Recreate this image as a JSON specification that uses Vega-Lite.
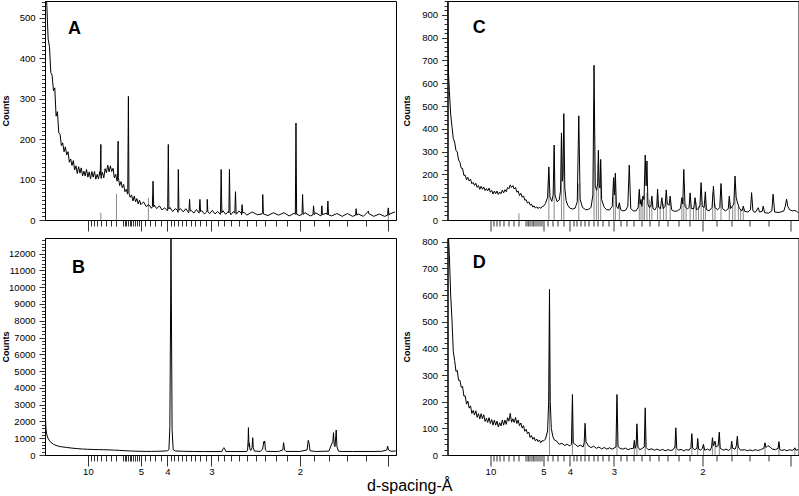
{
"$schema": "https://vega.github.io/schema/vega-lite/v6.json",
"padding": 0,
"background": "white",
"bounds": "flush",
"config": {
  "view": {"stroke": "#000", "strokeWidth": 1},
  "font": "Liberation Sans",
  "axis": {"domainColor": "#000", "tickColor": "#333", "labelColor": "#000", "labelFont": "Liberation Sans", "labelFontSize": 9.5, "titleFont": "Liberation Sans", "titleColor": "#000", "grid": false, "labelOverlap": false, "labelFlush": false}
},
"title": {"text": "d-spacing-Å", "orient": "bottom", "anchor": "middle", "fontSize": 16, "fontWeight": "normal", "font": "Liberation Sans", "color": "#000", "offset": 2, "dx": 10},
"datasets": {
"A": [{"d":50,"c":600},{"d":44.44,"c":530},{"d":40,"c":448},{"d":36.36,"c":429},{"d":33.33,"c":365},{"d":30.77,"c":358},{"d":28.57,"c":320},{"d":26.67,"c":327},{"d":25,"c":257},{"d":23.53,"c":268},{"d":22.22,"c":216},{"d":21.05,"c":212},{"d":20,"c":184},{"d":19.05,"c":191},{"d":18.18,"c":169},{"d":17.39,"c":181},{"d":16.67,"c":161},{"d":16,"c":169},{"d":15.38,"c":143},{"d":14.81,"c":151},{"d":14.29,"c":135},{"d":13.79,"c":147},{"d":13.33,"c":124},{"d":12.9,"c":134},{"d":12.5,"c":115},{"d":12.12,"c":132},{"d":11.76,"c":116},{"d":11.43,"c":129},{"d":11.11,"c":109},{"d":10.81,"c":121},{"d":10.53,"c":109},{"d":10.26,"c":125},{"d":10,"c":106},{"d":9.756,"c":119},{"d":9.524,"c":102},{"d":9.302,"c":120},{"d":9.091,"c":106},{"d":8.889,"c":120},{"d":8.696,"c":101},{"d":8.511,"c":113},{"d":8.333,"c":102},{"d":8.163,"c":120},{"d":8,"c":103},{"d":7.843,"c":118},{"d":7.692,"c":104},{"d":7.547,"c":127},{"d":7.407,"c":117},{"d":7.273,"c":136},{"d":7.143,"c":119},{"d":7.018,"c":134},{"d":6.897,"c":120},{"d":6.78,"c":128},{"d":6.667,"c":104},{"d":6.557,"c":113},{"d":6.452,"c":96},{"d":6.349,"c":105},{"d":6.25,"c":85},{"d":6.154,"c":95},{"d":6.061,"c":80},{"d":5.97,"c":88},{"d":5.882,"c":70},{"d":5.797,"c":76},{"d":5.714,"c":64},{"d":5.634,"c":74},{"d":5.556,"c":56},{"d":5.479,"c":62},{"d":5.405,"c":47},{"d":5.333,"c":59},{"d":5.263,"c":45},{"d":5.195,"c":53},{"d":5.128,"c":40},{"d":5.063,"c":49},{"d":5,"c":38},{"d":4.878,"c":45},{"d":4.762,"c":33},{"d":4.651,"c":38},{"d":4.545,"c":29},{"d":4.444,"c":37},{"d":4.348,"c":28},{"d":4.255,"c":35},{"d":4.167,"c":25},{"d":4.082,"c":30},{"d":4,"c":23},{"d":3.922,"c":31},{"d":3.846,"c":21},{"d":3.774,"c":28},{"d":3.704,"c":19},{"d":3.636,"c":28},{"d":3.571,"c":20},{"d":3.509,"c":28},{"d":3.448,"c":18},{"d":3.39,"c":24},{"d":3.333,"c":17},{"d":3.279,"c":26},{"d":3.226,"c":17},{"d":3.175,"c":23},{"d":3.125,"c":15},{"d":3.077,"c":24},{"d":3.03,"c":16},{"d":2.985,"c":24},{"d":2.941,"c":15},{"d":2.899,"c":21},{"d":2.857,"c":14},{"d":2.817,"c":23},{"d":2.778,"c":14},{"d":2.74,"c":21},{"d":2.703,"c":13},{"d":2.667,"c":21},{"d":2.632,"c":14},{"d":2.597,"c":22},{"d":2.564,"c":13},{"d":2.532,"c":19},{"d":2.5,"c":12},{"d":2.439,"c":20},{"d":2.381,"c":13},{"d":2.326,"c":19},{"d":2.273,"c":11},{"d":2.222,"c":18},{"d":2.174,"c":12},{"d":2.128,"c":18},{"d":2.083,"c":10},{"d":2.041,"c":17},{"d":2,"c":11},{"d":1.961,"c":18},{"d":1.923,"c":10},{"d":1.887,"c":18},{"d":1.852,"c":10},{"d":1.818,"c":17},{"d":1.786,"c":10},{"d":1.754,"c":16},{"d":1.724,"c":9},{"d":1.695,"c":16},{"d":1.667,"c":9},{"d":1.639,"c":15},{"d":1.613,"c":9},{"d":1.587,"c":16},{"d":1.563,"c":9},{"d":1.538,"c":15},{"d":1.515,"c":9},{"d":1.493,"c":15},{"d":1.471,"c":20},
{"d":8.11,"c":111},{"d":8.032,"c":187},{"d":7.955,"c":111},{"d":6.414,"c":100},{"d":6.365,"c":195},{"d":6.317,"c":99},{"d":5.705,"c":68},{"d":5.666,"c":306},{"d":5.627,"c":66},{"d":4.509,"c":33},{"d":4.484,"c":96},{"d":4.46,"c":33},{"d":3.99,"c":27},{"d":3.971,"c":187},{"d":3.953,"c":27},{"d":3.711,"c":24},{"d":3.694,"c":125},{"d":3.678,"c":24},{"d":3.439,"c":22},{"d":3.425,"c":51},{"d":3.411,"c":22},{"d":3.223,"c":21},{"d":3.21,"c":51},{"d":3.198,"c":21},{"d":3.085,"c":20},{"d":3.074,"c":51},{"d":3.063,"c":20},{"d":2.854,"c":18},{"d":2.844,"c":125},{"d":2.834,"c":18},{"d":2.731,"c":18},{"d":2.723,"c":125},{"d":2.714,"c":18},{"d":2.65,"c":17},{"d":2.641,"c":70},{"d":2.633,"c":17},{"d":2.565,"c":17},{"d":2.557,"c":38},{"d":2.549,"c":17},{"d":2.332,"c":15},{"d":2.325,"c":63},{"d":2.319,"c":15},{"d":2.034,"c":14},{"d":2.029,"c":240},{"d":2.024,"c":14},{"d":1.983,"c":14},{"d":1.979,"c":63},{"d":1.974,"c":14},{"d":1.905,"c":13},{"d":1.901,"c":35},{"d":1.896,"c":13},{"d":1.85,"c":13},{"d":1.846,"c":35},{"d":1.842,"c":13},{"d":1.812,"c":13},{"d":1.808,"c":47},{"d":1.804,"c":13},{"d":1.652,"c":12},{"d":1.649,"c":28},{"d":1.646,"c":12},{"d":1.588,"c":22},{"d":1.502,"c":12},{"d":1.499,"c":30},{"d":1.496,"c":12}],
"As": [{"d":8.032,"c":18},{"d":6.494,"c":65},{"d":4.669,"c":55},{"d":1.499,"c":25}],
"B": [{"d":51.28,"c":2350},{"d":50,"c":2150},{"d":47.62,"c":1500},{"d":44.44,"c":1200},{"d":40,"c":980},{"d":36.36,"c":850},{"d":33.33,"c":760},{"d":28.57,"c":640},{"d":25,"c":570},{"d":22.22,"c":520},{"d":20,"c":490},{"d":16.67,"c":450},{"d":14.29,"c":410},{"d":12.5,"c":380},{"d":11.11,"c":355},{"d":10,"c":340},{"d":9.091,"c":330},{"d":8.333,"c":320},{"d":7.692,"c":315},{"d":7.143,"c":305},{"d":6.667,"c":290},{"d":6.25,"c":275},{"d":5.882,"c":255},{"d":5.556,"c":240},{"d":5.263,"c":228},{"d":5,"c":220},{"d":4.762,"c":215},{"d":4.545,"c":215},{"d":4.348,"c":220},{"d":4.167,"c":230},{"d":4,"c":250},{"d":3.953,"c":320},{"d":3.925,"c":1700},{"d":3.903,"c":9000},{"d":3.893,"c":13500},{"d":3.882,"c":9000},{"d":3.861,"c":1500},{"d":3.831,"c":320},{"d":3.774,"c":240},{"d":3.571,"c":220},{"d":3.333,"c":210},{"d":3.125,"c":205},{"d":2.941,"c":205},{"d":2.833,"c":215},{"d":2.813,"c":380},{"d":2.803,"c":437},{"d":2.793,"c":370},{"d":2.774,"c":215},{"d":2.632,"c":205},{"d":2.5,"c":210},{"d":2.491,"c":300},{"d":2.484,"c":900},{"d":2.481,"c":1630},{"d":2.477,"c":900},{"d":2.473,"c":500},{"d":2.469,"c":700},{"d":2.463,"c":320},{"d":2.451,"c":280},{"d":2.439,"c":450},{"d":2.432,"c":1030},{"d":2.426,"c":450},{"d":2.415,"c":240},{"d":2.353,"c":210},{"d":2.326,"c":350},{"d":2.315,"c":795},{"d":2.311,"c":700},{"d":2.305,"c":835},{"d":2.298,"c":300},{"d":2.283,"c":215},{"d":2.174,"c":210},{"d":2.137,"c":300},{"d":2.13,"c":735},{"d":2.122,"c":300},{"d":2.11,"c":215},{"d":2,"c":210},{"d":1.946,"c":300},{"d":1.938,"c":874},{"d":1.932,"c":700},{"d":1.925,"c":250},{"d":1.887,"c":210},{"d":1.802,"c":230},{"d":1.783,"c":700},{"d":1.778,"c":795},{"d":1.774,"c":1330},{"d":1.77,"c":600},{"d":1.765,"c":500},{"d":1.758,"c":1490},{"d":1.754,"c":500},{"d":1.745,"c":230},{"d":1.724,"c":210},{"d":1.667,"c":210},{"d":1.5625,"c":210},{"d":1.527,"c":220},{"d":1.505,"c":300},{"d":1.502,"c":536},{"d":1.498,"c":300},{"d":1.488,"c":220},{"d":1.468,"c":240}],
"C": [{"d":52.63,"c":1000},{"d":50,"c":760},{"d":47.62,"c":640},{"d":44.44,"c":568},{"d":40,"c":464},{"d":36.36,"c":410},{"d":33.33,"c":357},{"d":30.77,"c":342},{"d":28.57,"c":306},{"d":26.67,"c":298},{"d":25,"c":263},{"d":23.53,"c":253},{"d":22.22,"c":227},{"d":21.05,"c":226},{"d":20,"c":196},{"d":19.05,"c":197},{"d":18.18,"c":177},{"d":17.39,"c":187},{"d":16.67,"c":171},{"d":16,"c":179},{"d":15.38,"c":159},{"d":14.81,"c":165},{"d":14.29,"c":152},{"d":13.79,"c":161},{"d":13.33,"c":143},{"d":12.9,"c":151},{"d":12.5,"c":135},{"d":12.12,"c":148},{"d":11.76,"c":135},{"d":11.43,"c":145},{"d":11.11,"c":129},{"d":10.81,"c":138},{"d":10.53,"c":128},{"d":10.26,"c":140},{"d":10,"c":122},{"d":9.756,"c":130},{"d":9.524,"c":114},{"d":9.302,"c":127},{"d":9.091,"c":115},{"d":8.889,"c":127},{"d":8.696,"c":112},{"d":8.511,"c":123},{"d":8.333,"c":115},{"d":8.163,"c":131},{"d":8,"c":119},{"d":7.843,"c":133},{"d":7.692,"c":124},{"d":7.547,"c":143},{"d":7.407,"c":137},{"d":7.273,"c":154},{"d":7.143,"c":143},{"d":7.018,"c":151},{"d":6.897,"c":136},{"d":6.78,"c":143},{"d":6.667,"c":122},{"d":6.557,"c":127},{"d":6.452,"c":107},{"d":6.349,"c":117},{"d":6.25,"c":100},{"d":6.154,"c":106},{"d":6.061,"c":87},{"d":5.97,"c":89},{"d":5.882,"c":74},{"d":5.797,"c":80},{"d":5.714,"c":65},{"d":5.634,"c":70},{"d":5.556,"c":57},{"d":5.479,"c":62},{"d":5.405,"c":52},{"d":5.333,"c":58},{"d":5.263,"c":50},{"d":5.195,"c":57},{"d":5.128,"c":51},{"d":5.063,"c":59},{"d":5,"c":60},
{"d":4.902,"c":72},{"d":4.808,"c":100},{"d":4.753,"c":233},{"d":4.706,"c":100},{"d":4.63,"c":82},{"d":4.577,"c":110},{"d":4.537,"c":329},{"d":4.505,"c":110},{"d":4.425,"c":80},{"d":4.348,"c":88},{"d":4.301,"c":130},{"d":4.27,"c":382},{"d":4.237,"c":170},{"d":4.219,"c":200},{"d":4.191,"c":467},{"d":4.158,"c":140},{"d":4.115,"c":85},{"d":4.065,"c":65},{"d":4,"c":52},{"d":3.922,"c":48},{"d":3.846,"c":52},{"d":3.788,"c":80},{"d":3.747,"c":457},{"d":3.711,"c":90},{"d":3.65,"c":55},{"d":3.571,"c":45},{"d":3.509,"c":46},{"d":3.448,"c":55},{"d":3.407,"c":110},{"d":3.382,"c":679},{"d":3.356,"c":150},{"d":3.328,"c":130},{"d":3.306,"c":160},{"d":3.291,"c":306},{"d":3.273,"c":150},{"d":3.257,"c":140},{"d":3.244,"c":266},{"d":3.226,"c":90},{"d":3.175,"c":55},{"d":3.125,"c":45},{"d":3.077,"c":44},{"d":3.03,"c":60},{"d":3.006,"c":186},{"d":2.991,"c":110},{"d":2.977,"c":206},{"d":2.959,"c":60},{"d":2.933,"c":50},{"d":2.912,"c":76},{"d":2.89,"c":45},{"d":2.857,"c":40},{"d":2.817,"c":42},{"d":2.782,"c":60},{"d":2.761,"c":241},{"d":2.74,"c":50},{"d":2.703,"c":40},{"d":2.667,"c":40},{"d":2.639,"c":55},{"d":2.624,"c":135},{"d":2.612,"c":70},{"d":2.602,"c":90},{"d":2.591,"c":60},{"d":2.578,"c":105},{"d":2.564,"c":90},{"d":2.549,"c":285},{"d":2.538,"c":150},{"d":2.528,"c":259},{"d":2.516,"c":70},{"d":2.5,"c":55},{"d":2.481,"c":60},{"d":2.47,"c":105},{"d":2.457,"c":50},{"d":2.433,"c":45},{"d":2.415,"c":60},{"d":2.406,"c":135},{"d":2.395,"c":55},{"d":2.375,"c":50},{"d":2.36,"c":98},{"d":2.347,"c":50},{"d":2.326,"c":60},{"d":2.315,"c":132},{"d":2.304,"c":70},{"d":2.286,"c":65},{"d":2.276,"c":105},{"d":2.262,"c":45},{"d":2.237,"c":38},{"d":2.208,"c":40},{"d":2.179,"c":50},{"d":2.167,"c":98},{"d":2.159,"c":70},{"d":2.15,"c":222},{"d":2.139,"c":60},{"d":2.119,"c":48},{"d":2.105,"c":55},{"d":2.096,"c":119},{"d":2.086,"c":50},{"d":2.066,"c":50},{"d":2.056,"c":98},{"d":2.045,"c":45},{"d":2.028,"c":50},{"d":2.018,"c":65},{"d":2.009,"c":164},{"d":2,"c":60},{"d":1.986,"c":55},{"d":1.977,"c":124},{"d":1.969,"c":45},{"d":1.949,"c":40},{"d":1.929,"c":55},{"d":1.919,"c":148},{"d":1.91,"c":55},{"d":1.89,"c":45},{"d":1.876,"c":55},{"d":1.868,"c":160},{"d":1.859,"c":50},{"d":1.838,"c":40},{"d":1.821,"c":50},{"d":1.815,"c":105},{"d":1.807,"c":50},{"d":1.787,"c":70},{"d":1.78,"c":193},{"d":1.773,"c":100},{"d":1.767,"c":80},{"d":1.754,"c":50},{"d":1.739,"c":40},{"d":1.732,"c":61},{"d":1.724,"c":38},{"d":1.706,"c":35},{"d":1.692,"c":45},{"d":1.686,"c":120},{"d":1.679,"c":40},{"d":1.667,"c":33},{"d":1.651,"c":54},{"d":1.645,"c":35},{"d":1.631,"c":38},{"d":1.626,"c":61},{"d":1.619,"c":32},{"d":1.6,"c":30},{"d":1.584,"c":40},{"d":1.578,"c":113},{"d":1.571,"c":35},{"d":1.55,"c":33},{"d":1.529,"c":40},{"d":1.523,"c":60},{"d":1.517,"c":91},{"d":1.512,"c":60},{"d":1.504,"c":45},{"d":1.493,"c":40},{"d":1.482,"c":42},{"d":1.475,"c":38},{"d":1.468,"c":32}],
"Cs": [{"d":4.753,"c":200},{"d":4.537,"c":300},{"d":4.27,"c":360},{"d":4.191,"c":440},{"d":3.747,"c":160},{"d":3.382,"c":520},{"d":3.332,"c":130},{"d":3.291,"c":250},{"d":3.244,"c":220},{"d":3.006,"c":170},{"d":2.977,"c":190},{"d":2.912,"c":70},{"d":2.624,"c":120},{"d":2.602,"c":90},{"d":2.578,"c":100},{"d":2.557,"c":110},{"d":2.528,"c":120},{"d":2.497,"c":90},{"d":2.47,"c":80},{"d":2.406,"c":110},{"d":2.378,"c":60},{"d":2.342,"c":70},{"d":2.315,"c":110},{"d":2.276,"c":90},{"d":2.167,"c":90},{"d":2.15,"c":100},{"d":2.13,"c":70},{"d":2.096,"c":100},{"d":2.069,"c":60},{"d":2.048,"c":80},{"d":2.029,"c":60},{"d":2.009,"c":140},{"d":1.991,"c":60},{"d":1.977,"c":110},{"d":1.924,"c":120},{"d":1.908,"c":70},{"d":1.868,"c":140},{"d":1.815,"c":90},{"d":1.794,"c":60},{"d":1.78,"c":150},{"d":1.76,"c":60},{"d":1.747,"c":50},{"d":1.732,"c":50},{"d":6.498,"c":30}],
"D": [{"d":50,"c":850},{"d":47.62,"c":815},{"d":44.44,"c":752},{"d":40,"c":601},{"d":36.36,"c":507},{"d":33.33,"c":388},{"d":30.77,"c":355},{"d":28.57,"c":314},{"d":26.67,"c":317},{"d":25,"c":280},{"d":23.53,"c":280},{"d":22.22,"c":254},{"d":21.05,"c":257},{"d":20,"c":221},{"d":19.05,"c":222},{"d":18.18,"c":191},{"d":17.39,"c":202},{"d":16.67,"c":176},{"d":16,"c":184},{"d":15.38,"c":156},{"d":14.81,"c":167},{"d":14.29,"c":150},{"d":13.79,"c":166},{"d":13.33,"c":141},{"d":12.9,"c":155},{"d":12.5,"c":135},{"d":12.12,"c":155},{"d":11.76,"c":136},{"d":11.43,"c":151},{"d":11.11,"c":126},{"d":10.81,"c":138},{"d":10.53,"c":122},{"d":10.26,"c":140},{"d":10,"c":118},{"d":9.756,"c":133},{"d":9.524,"c":112},{"d":9.302,"c":131},{"d":9.091,"c":112},{"d":8.889,"c":127},{"d":8.696,"c":105},{"d":8.511,"c":121},{"d":8.333,"c":109},{"d":8.163,"c":131},{"d":8,"c":112},{"d":7.843,"c":131},{"d":7.692,"c":115},{"d":7.547,"c":140},{"d":7.407,"c":127},{"d":7.273,"c":156},{"d":7.143,"c":123},{"d":7.018,"c":136},{"d":6.897,"c":122},{"d":6.78,"c":141},{"d":6.667,"c":118},{"d":6.557,"c":131},{"d":6.452,"c":110},{"d":6.349,"c":120},{"d":6.25,"c":101},{"d":6.154,"c":110},{"d":6.061,"c":89},{"d":5.97,"c":96},{"d":5.882,"c":80},{"d":5.797,"c":86},{"d":5.714,"c":66},{"d":5.634,"c":73},{"d":5.556,"c":59},{"d":5.479,"c":66},{"d":5.405,"c":53},{"d":5.333,"c":60},{"d":5.263,"c":50},{"d":5.195,"c":56},{"d":5.128,"c":46},{"d":5.063,"c":54},{"d":5,"c":52},
{"d":4.902,"c":60},{"d":4.808,"c":90},{"d":4.762,"c":200},{"d":4.726,"c":621},{"d":4.695,"c":200},{"d":4.651,"c":100},{"d":4.587,"c":68},{"d":4.525,"c":56},{"d":4.444,"c":52},{"d":4.348,"c":40},{"d":4.255,"c":44},{"d":4.167,"c":36},{"d":4.082,"c":40},{"d":4,"c":34},{"d":3.953,"c":40},{"d":3.923,"c":227},{"d":3.899,"c":45},{"d":3.846,"c":40},{"d":3.774,"c":32},{"d":3.704,"c":37},{"d":3.636,"c":30},{"d":3.61,"c":45},{"d":3.587,"c":119},{"d":3.565,"c":50},{"d":3.509,"c":34},{"d":3.448,"c":28},{"d":3.39,"c":33},{"d":3.333,"c":25},{"d":3.279,"c":30},{"d":3.226,"c":23},{"d":3.175,"c":28},{"d":3.125,"c":22},{"d":3.077,"c":27},{"d":3.03,"c":22},{"d":2.967,"c":30},{"d":2.95,"c":227},{"d":2.933,"c":32},{"d":2.899,"c":25},{"d":2.857,"c":22},{"d":2.817,"c":26},{"d":2.778,"c":20},{"d":2.74,"c":24},{"d":2.703,"c":25},{"d":2.69,"c":55},{"d":2.677,"c":25},{"d":2.665,"c":40},{"d":2.655,"c":117},{"d":2.642,"c":30},{"d":2.618,"c":20},{"d":2.591,"c":24},{"d":2.561,"c":30},{"d":2.549,"c":177},{"d":2.538,"c":28},{"d":2.513,"c":20},{"d":2.469,"c":23},{"d":2.439,"c":18},{"d":2.41,"c":22},{"d":2.381,"c":17},{"d":2.353,"c":21},{"d":2.326,"c":16},{"d":2.299,"c":20},{"d":2.273,"c":17},{"d":2.247,"c":20},{"d":2.23,"c":30},{"d":2.222,"c":102},{"d":2.213,"c":25},{"d":2.198,"c":18},{"d":2.174,"c":21},{"d":2.151,"c":16},{"d":2.128,"c":20},{"d":2.105,"c":18},{"d":2.09,"c":28},{"d":2.082,"c":80},{"d":2.075,"c":25},{"d":2.058,"c":20},{"d":2.041,"c":25},{"d":2.035,"c":62},{"d":2.028,"c":22},{"d":2.012,"c":18},{"d":2,"c":25},{"d":1.991,"c":40},{"d":1.982,"c":18},{"d":1.961,"c":22},{"d":1.942,"c":17},{"d":1.932,"c":30},{"d":1.926,"c":65},{"d":1.919,"c":35},{"d":1.908,"c":52},{"d":1.901,"c":30},{"d":1.887,"c":35},{"d":1.879,"c":86},{"d":1.873,"c":25},{"d":1.852,"c":18},{"d":1.835,"c":22},{"d":1.818,"c":17},{"d":1.805,"c":25},{"d":1.8,"c":52},{"d":1.794,"c":25},{"d":1.779,"c":22},{"d":1.772,"c":35},{"d":1.766,"c":71},{"d":1.761,"c":30},{"d":1.748,"c":18},{"d":1.724,"c":20},{"d":1.709,"c":16},{"d":1.695,"c":19},{"d":1.681,"c":16},{"d":1.667,"c":20},{"d":1.653,"c":17},{"d":1.639,"c":20},{"d":1.623,"c":25},{"d":1.617,"c":46},{"d":1.612,"c":28},{"d":1.603,"c":35},{"d":1.592,"c":30},{"d":1.582,"c":22},{"d":1.567,"c":20},{"d":1.555,"c":25},{"d":1.551,"c":50},{"d":1.547,"c":20},{"d":1.538,"c":17},{"d":1.527,"c":20},{"d":1.515,"c":16},{"d":1.504,"c":20},{"d":1.493,"c":17},{"d":1.485,"c":22},{"d":1.482,"c":27},{"d":1.478,"c":18},{"d":1.468,"c":20}],
"Ds": [{"d":4.726,"c":560},{"d":3.923,"c":200},{"d":3.587,"c":100},{"d":2.95,"c":200},{"d":2.69,"c":45},{"d":2.655,"c":100},{"d":2.549,"c":150},{"d":2.222,"c":90},{"d":2.082,"c":70},{"d":2.035,"c":55},{"d":1.991,"c":35},{"d":1.926,"c":55},{"d":1.908,"c":45},{"d":1.879,"c":75},{"d":1.8,"c":45},{"d":1.766,"c":60},{"d":1.617,"c":40},{"d":1.551,"c":45},{"d":1.482,"c":25}]
},
"columns": 2,
"spacing": {"row": 18, "column": 51.5},
"concat": [
{
 "width": 351, "height": 219,
 "encoding": {
  "x": {"field": "d", "type": "quantitative", "scale": {"type": "pow", "exponent": -1, "domain": [52.5, 1.467], "nice": false, "zero": false},
        "axis": {"values": [10,9.5,9,8.5,8,7.5,7,6.5,6,5.9,5.8,5.7,5.6,5.5,5.4,5.3,5.2,5.1,5,4.8,4.6,4.4,4.2,4,3.9,3.8,3.7,3.6,3.5,3.4,3.3,3.2,3.1,3,2.9,2.8,2.7,2.6,2.5,2.4,2.3,2.2,2.1,2,1.9,1.8,1.7,1.6,1.5], "title": null, "labels": false,
                 "tickSize": {"condition": {"test": "indexof([10,5,4,3,2,1.5], datum.value) >= 0", "value": 11}, "value": 6}}},
  "y": {"field": "c", "type": "quantitative", "scale": {"domain": [0, 542], "nice": false, "zero": false},
        "axis": {"values": [0,10,20,30,40,50,60,70,80,90,100,110,120,130,140,150,160,170,180,190,200,210,220,230,240,250,260,270,280,290,300,310,320,330,340,350,360,370,380,390,400,410,420,430,440,450,460,470,480,490,500,510,520,530,540],
                 "format": "d", "labelExpr": "datum.value % 100 == 0 ? datum.label : ''",
                 "labelFontSize": {"condition": {"test": "datum.value % 100 == 0", "value": 9.5}, "value": 0},
                 "tickSize": {"condition": {"test": "datum.value % 100 == 0", "value": 6}, "value": 3.5},
                 "labelPadding": 4, "title": "Counts", "titleFontSize": 9, "titleFontWeight": "bold", "titleX": -35}}
 },
 "layer": [
  {"data": {"name": "As"}, "mark": {"type": "rule", "color": "#8a8a8a", "strokeWidth": 1}, "encoding": {"y2": {"datum": 0}}},
  {"data": {"name": "A"}, "mark": {"type": "line", "color": "#000", "strokeWidth": 1, "clip": true}},
  {"data": {"values": [{"d": 16.0, "c": 460, "t": "A"}]}, "mark": {"type": "text", "font": "Liberation Sans", "fontSize": 18, "fontWeight": "bold", "align": "left", "baseline": "alphabetic", "color": "#000"}, "encoding": {"text": {"field": "t"}}}
 ]
},
{
 "width": 351, "height": 219,
 "encoding": {
  "x": {"field": "d", "type": "quantitative", "scale": {"type": "pow", "exponent": -1, "domain": [52.5, 1.467], "nice": false, "zero": false},
        "axis": {"values": [10,9.5,9,8.5,8,7.5,7,6.5,6,5.9,5.8,5.7,5.6,5.5,5.4,5.3,5.2,5.1,5,4.8,4.6,4.4,4.2,4,3.9,3.8,3.7,3.6,3.5,3.4,3.3,3.2,3.1,3,2.9,2.8,2.7,2.6,2.5,2.4,2.3,2.2,2.1,2,1.9,1.8,1.7,1.6,1.5], "title": null, "labels": false,
                 "tickSize": {"condition": {"test": "indexof([10,5,4,3,2,1.5], datum.value) >= 0", "value": 11}, "value": 6}}},
  "y": {"field": "c", "type": "quantitative", "scale": {"domain": [0, 961], "nice": false, "zero": false},
        "axis": {"values": [0,20,40,60,80,100,120,140,160,180,200,220,240,260,280,300,320,340,360,380,400,420,440,460,480,500,520,540,560,580,600,620,640,660,680,700,720,740,760,780,800,820,840,860,880,900,920,940,960],
                 "format": "d", "labelExpr": "datum.value % 100 == 0 ? datum.label : ''",
                 "labelFontSize": {"condition": {"test": "datum.value % 100 == 0", "value": 9.5}, "value": 0},
                 "tickSize": {"condition": {"test": "datum.value % 100 == 0", "value": 6}, "value": 3.5},
                 "labelPadding": 4, "title": "Counts", "titleFontSize": 9, "titleFontWeight": "bold", "titleX": -36}}
 },
 "layer": [
  {"data": {"name": "Cs"}, "mark": {"type": "rule", "color": "#8a8a8a", "strokeWidth": 1}, "encoding": {"y2": {"datum": 0}}},
  {"data": {"name": "C"}, "mark": {"type": "line", "color": "#000", "strokeWidth": 1, "clip": true}},
  {"data": {"values": [{"d": 15.0, "c": 820, "t": "C"}]}, "mark": {"type": "text", "font": "Liberation Sans", "fontSize": 18, "fontWeight": "bold", "align": "left", "baseline": "alphabetic", "color": "#000"}, "encoding": {"text": {"field": "t"}}}
 ]
},
{
 "width": 351, "height": 217,
 "encoding": {
  "x": {"field": "d", "type": "quantitative", "scale": {"type": "pow", "exponent": -1, "domain": [52.5, 1.467], "nice": false, "zero": false},
        "axis": {"values": [10,9.5,9,8.5,8,7.5,7,6.5,6,5.9,5.8,5.7,5.6,5.5,5.4,5.3,5.2,5.1,5,4.8,4.6,4.4,4.2,4,3.9,3.8,3.7,3.6,3.5,3.4,3.3,3.2,3.1,3,2.9,2.8,2.7,2.6,2.5,2.4,2.3,2.2,2.1,2,1.9,1.8,1.7,1.6,1.5], "title": null,
                 "labelExpr": "indexof([10,5,4,3,2], datum.value) >= 0 ? datum.value + '' : ''", "labelPadding": 0,
                 "labelFontSize": {"condition": {"test": "indexof([10,5,4,3,2], datum.value) >= 0", "value": 9.5}, "value": 0},
                 "tickSize": {"condition": {"test": "indexof([10,5,4,3,2,1.5], datum.value) >= 0", "value": 11}, "value": 6}}},
  "y": {"field": "c", "type": "quantitative", "scale": {"domain": [0, 12930], "nice": false, "zero": false},
        "axis": {"values": [0,200,400,600,800,1000,1200,1400,1600,1800,2000,2200,2400,2600,2800,3000,3200,3400,3600,3800,4000,4200,4400,4600,4800,5000,5200,5400,5600,5800,6000,6200,6400,6600,6800,7000,7200,7400,7600,7800,8000,8200,8400,8600,8800,9000,9200,9400,9600,9800,10000,10200,10400,10600,10800,11000,11200,11400,11600,11800,12000,12200,12400,12600,12800],
                 "format": "d", "labelExpr": "datum.value % 1000 == 0 ? datum.label : ''",
                 "labelFontSize": {"condition": {"test": "datum.value % 1000 == 0", "value": 9.5}, "value": 0},
                 "tickSize": {"condition": {"test": "datum.value % 1000 == 0", "value": 6}, "value": 3.5},
                 "labelPadding": 4, "title": "Counts", "titleFontSize": 9, "titleFontWeight": "bold", "titleX": -35}}
 },
 "layer": [
  {"data": {"name": "B"}, "mark": {"type": "line", "color": "#000", "strokeWidth": 1, "clip": true}},
  {"data": {"values": [{"d": 14.3, "c": 10845, "t": "B"}]}, "mark": {"type": "text", "font": "Liberation Sans", "fontSize": 18, "fontWeight": "bold", "align": "left", "baseline": "alphabetic", "color": "#000"}, "encoding": {"text": {"field": "t"}}}
 ]
},
{
 "width": 351, "height": 217,
 "encoding": {
  "x": {"field": "d", "type": "quantitative", "scale": {"type": "pow", "exponent": -1, "domain": [52.5, 1.467], "nice": false, "zero": false},
        "axis": {"values": [10,9.5,9,8.5,8,7.5,7,6.5,6,5.9,5.8,5.7,5.6,5.5,5.4,5.3,5.2,5.1,5,4.8,4.6,4.4,4.2,4,3.9,3.8,3.7,3.6,3.5,3.4,3.3,3.2,3.1,3,2.9,2.8,2.7,2.6,2.5,2.4,2.3,2.2,2.1,2,1.9,1.8,1.7,1.6,1.5], "title": null,
                 "labelExpr": "indexof([10,5,4,3,2], datum.value) >= 0 ? datum.value + '' : ''", "labelPadding": 0,
                 "labelFontSize": {"condition": {"test": "indexof([10,5,4,3,2], datum.value) >= 0", "value": 9.5}, "value": 0},
                 "tickSize": {"condition": {"test": "indexof([10,5,4,3,2,1.5], datum.value) >= 0", "value": 11}, "value": 6}}},
  "y": {"field": "c", "type": "quantitative", "scale": {"domain": [0, 814], "nice": false, "zero": false},
        "axis": {"values": [0,20,40,60,80,100,120,140,160,180,200,220,240,260,280,300,320,340,360,380,400,420,440,460,480,500,520,540,560,580,600,620,640,660,680,700,720,740,760,780,800],
                 "format": "d", "labelExpr": "datum.value % 100 == 0 ? datum.label : ''",
                 "labelFontSize": {"condition": {"test": "datum.value % 100 == 0", "value": 9.5}, "value": 0},
                 "tickSize": {"condition": {"test": "datum.value % 100 == 0", "value": 6}, "value": 3.5},
                 "labelPadding": 4, "title": "Counts", "titleFontSize": 9, "titleFontWeight": "bold", "titleX": -36}}
 },
 "layer": [
  {"data": {"name": "Ds"}, "mark": {"type": "rule", "color": "#8a8a8a", "strokeWidth": 1}, "encoding": {"y2": {"datum": 0}}},
  {"data": {"name": "D"}, "mark": {"type": "line", "color": "#000", "strokeWidth": 1, "clip": true}},
  {"data": {"values": [{"d": 15.0, "c": 701, "t": "D"}]}, "mark": {"type": "text", "font": "Liberation Sans", "fontSize": 18, "fontWeight": "bold", "align": "left", "baseline": "alphabetic", "color": "#000"}, "encoding": {"text": {"field": "t"}}}
 ]
}
]
}
